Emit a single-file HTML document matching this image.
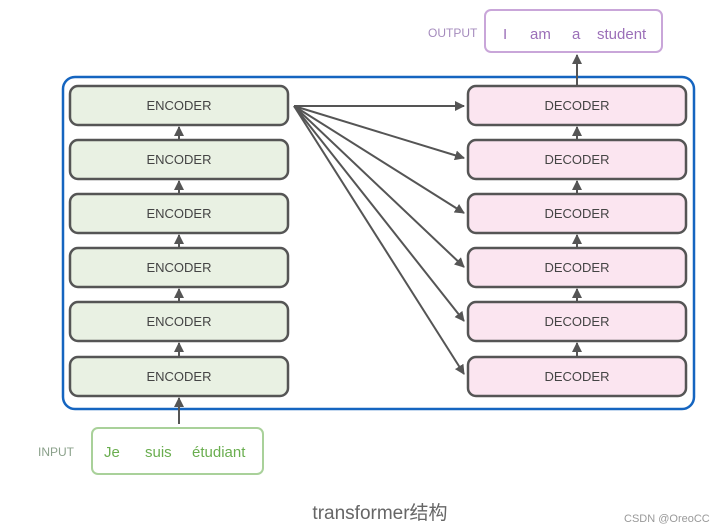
<!DOCTYPE html>
<html><head><meta charset="utf-8"><style>
body{margin:0;width:727px;height:531px;background:#fff;overflow:hidden;position:relative;font-family:"Liberation Sans","Noto Sans CJK SC",sans-serif}
</style></head><body>
<svg width="727" height="531" viewBox="0 0 727 531" style="position:absolute;left:0;top:0">
<defs>
<marker id="a" markerWidth="10" markerHeight="10" refX="9" refY="5" orient="auto" markerUnits="userSpaceOnUse"><path d="M0,0 L10,5 L0,10 z" fill="#555"/></marker>
</defs>
<rect x="63" y="77" width="631" height="332" rx="12" fill="#fff" stroke="#1565c0" stroke-width="2.5"/>
<g font-family="Liberation Sans, sans-serif" font-size="13" fill="#444" text-anchor="middle">
<!-- encoders -->
<g stroke="#555" stroke-width="2.5">
<rect x="70" y="86" width="218" height="39" rx="8" fill="#e9f1e3"/>
<rect x="70" y="140" width="218" height="39" rx="8" fill="#e9f1e3"/>
<rect x="70" y="194" width="218" height="39" rx="8" fill="#e9f1e3"/>
<rect x="70" y="248" width="218" height="39" rx="8" fill="#e9f1e3"/>
<rect x="70" y="302" width="218" height="39" rx="8" fill="#e9f1e3"/>
<rect x="70" y="357" width="218" height="39" rx="8" fill="#e9f1e3"/>
<rect x="468" y="86" width="218" height="39" rx="8" fill="#fbe5f0"/>
<rect x="468" y="140" width="218" height="39" rx="8" fill="#fbe5f0"/>
<rect x="468" y="194" width="218" height="39" rx="8" fill="#fbe5f0"/>
<rect x="468" y="248" width="218" height="39" rx="8" fill="#fbe5f0"/>
<rect x="468" y="302" width="218" height="39" rx="8" fill="#fbe5f0"/>
<rect x="468" y="357" width="218" height="39" rx="8" fill="#fbe5f0"/>
</g>
<text x="179" y="110">ENCODER</text><text x="179" y="164">ENCODER</text><text x="179" y="218">ENCODER</text>
<text x="179" y="272">ENCODER</text><text x="179" y="326">ENCODER</text><text x="179" y="381">ENCODER</text>
<text x="577" y="110">DECODER</text><text x="577" y="164">DECODER</text><text x="577" y="218">DECODER</text>
<text x="577" y="272">DECODER</text><text x="577" y="326">DECODER</text><text x="577" y="381">DECODER</text>
</g>
<g stroke="#555" stroke-width="2" marker-end="url(#a)">
<line x1="179" y1="140" x2="179" y2="127"/><line x1="179" y1="194" x2="179" y2="181"/>
<line x1="179" y1="248" x2="179" y2="235"/><line x1="179" y1="302" x2="179" y2="289"/>
<line x1="179" y1="357" x2="179" y2="343"/><line x1="179" y1="424" x2="179" y2="398"/>
<line x1="577" y1="140" x2="577" y2="127"/><line x1="577" y1="194" x2="577" y2="181"/>
<line x1="577" y1="248" x2="577" y2="235"/><line x1="577" y1="302" x2="577" y2="289"/>
<line x1="577" y1="357" x2="577" y2="343"/><line x1="577" y1="86" x2="577" y2="55"/>
<line x1="294" y1="106" x2="464" y2="106"/><line x1="294" y1="106" x2="464" y2="158"/>
<line x1="294" y1="106" x2="464" y2="213"/><line x1="294" y1="106" x2="464" y2="267"/>
<line x1="294" y1="106" x2="464" y2="321"/><line x1="294" y1="106" x2="464" y2="374"/>
</g>
<rect x="485" y="10" width="177" height="42" rx="6" fill="#fff" stroke="#c9a6d9" stroke-width="2"/>
<g font-size="15" fill="#9b6fb8" font-family="Liberation Sans, sans-serif">
<text x="503" y="39">I</text><text x="530" y="39">am</text><text x="572" y="39">a</text><text x="597" y="39">student</text>
</g>
<text x="428" y="37" font-size="12" fill="#a58bbd" font-family="Liberation Sans, sans-serif">OUTPUT</text>
<rect x="92" y="428" width="171" height="46" rx="6" fill="#fff" stroke="#a9d19a" stroke-width="2"/>
<g font-size="15" fill="#6aae4f" font-family="Liberation Sans, sans-serif">
<text x="104" y="457">Je</text><text x="145" y="457">suis</text><text x="192" y="457">étudiant</text>
</g>
<text x="38" y="456" font-size="12" fill="#8aa08a" font-family="Liberation Sans, sans-serif">INPUT</text>
<text x="380" y="519" font-size="19" fill="#666" text-anchor="middle" font-family="Liberation Sans, Noto Sans CJK SC, sans-serif">transformer结构</text>
<text x="624" y="522" font-size="11" fill="#999" font-family="Liberation Sans, sans-serif">CSDN @OreoCC</text>
</svg>
</body></html>
